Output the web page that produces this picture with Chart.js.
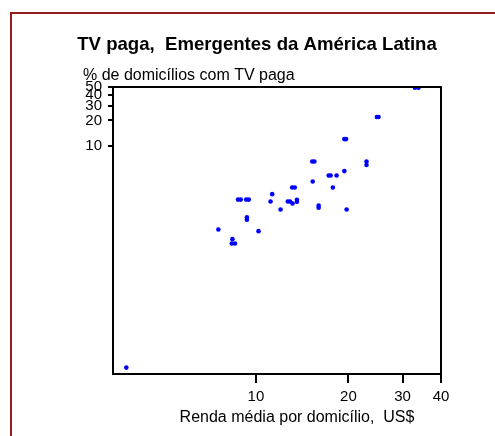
<!DOCTYPE html>
<html>
<head>
<meta charset="utf-8">
<script src="https://cdn.jsdelivr.net/npm/chart.js@4/dist/chart.umd.min.js"></script>
<style>
  html, body { margin: 0; padding: 0; background: #fff; overflow: hidden; }
  #wrap { position: relative; width: 495px; height: 436px; }
  #frame { position: absolute; left: 10px; top: 12px; width: 600px; height: 600px;
           border: 2px solid #951c1c; box-sizing: border-box; }
  canvas { position: absolute; left: 0; top: 0; }
</style>
</head>
<body>
<div id="wrap">
  <div id="frame"></div>
  <canvas id="c" width="495" height="436"></canvas>
</div>
<script>
// Average household income (US$) and share of households with pay TV (%)
const incomeUSD = [
  32.9, 33.8, 24.75, 25.05, 19.4, 19.65, 15.25, 15.5, 22.9, 22.9,
  19.4, 17.25, 17.5, 18.3, 15.3, 13.12, 13.38, 17.8, 11.3, 8.75,
  8.93, 9.3, 9.48, 11.16, 12.7, 12.92, 13.16, 13.6, 13.6, 12.03,
  16.0, 16.0, 19.73, 9.35, 9.35, 7.55, 10.2, 8.39, 8.35, 8.55,
  3.79
];
const payTVShare = [
  49.0, 49.0, 22.0, 22.0, 12.0, 12.0, 6.5, 6.5, 6.5, 5.9,
  5.0, 4.43, 4.43, 4.43, 3.76, 3.19, 3.19, 3.19, 2.66, 2.29,
  2.29, 2.29, 2.29, 2.17, 2.17, 2.17, 2.06, 2.28, 2.16, 1.745,
  1.95, 1.83, 1.745, 1.41, 1.32, 1.01, 0.965, 0.775, 0.687, 0.687,
  0.023
];
const xTickValues = [10, 20, 30, 40];
const yTickValues = [10, 20, 30, 40, 50];

const chartTitle = 'TV paga,  Emergentes da América Latina';
const yTitle = '% de domicílios com TV paga';
const xTitle = 'Renda média por domicílio,  US$';

const FONT = '"Liberation Sans", Arial, sans-serif';

const points = incomeUSD.map((x, i) => ({ x: x, y: payTVShare[i] }));

// Box around the plotting area plus the titles, placed in canvas pixels
const decor = {
  id: 'decor',
  afterDraw(chart) {
    const { ctx, chartArea: a } = chart;
    ctx.save();
    ctx.strokeStyle = '#000';
    ctx.lineWidth = 2;
    ctx.beginPath();
    ctx.moveTo(a.left, a.top);
    ctx.lineTo(a.right, a.top);
    ctx.lineTo(a.right, a.bottom);
    ctx.stroke();

    ctx.fillStyle = '#000';
    ctx.textBaseline = 'alphabetic';
    ctx.font = 'bold 18.6px ' + FONT;
    ctx.textAlign = 'center';
    ctx.fillText(chartTitle, 257, 50);

    ctx.font = '16px ' + FONT;
    ctx.textAlign = 'left';
    ctx.fillText(yTitle, 83, 80);

    ctx.textAlign = 'center';
    ctx.fillText(xTitle, 297, 422);
    ctx.restore();
  }
};

new Chart(document.getElementById('c'), {
  type: 'scatter',
  data: {
    datasets: [{
      data: points,
      backgroundColor: '#0000ff',
      borderWidth: 0,
      pointRadius: 2.3,
      pointHoverRadius: 2.3
    }]
  },
  options: {
    responsive: false,
    animation: false,
    events: [],
    layout: { padding: { top: 87, right: 54, bottom: 0, left: 0 } },
    plugins: { legend: { display: false }, tooltip: { enabled: false }, title: { display: false } },
    scales: {
      x: {
        type: 'logarithmic',
        min: 3.43,
        max: 40,
        afterBuildTicks: s => { s.ticks = xTickValues.map(v => ({ value: v })); },
        afterFit: s => { s.height = 62; },
        ticks: {
          autoSkip: false, maxRotation: 0, color: '#000', padding: 5,
          font: { family: FONT, size: 15 },
          callback: v => String(v)
        },
        grid: { drawOnChartArea: false, drawTicks: true, tickLength: 9, color: '#000', lineWidth: 2 },
        border: { display: true, color: '#000', width: 2 }
      },
      y: {
        type: 'logarithmic',
        min: 0.0193,
        max: 50,
        afterBuildTicks: s => { s.ticks = yTickValues.map(v => ({ value: v })); },
        afterFit: s => { s.width = 113; },
        ticks: {
          autoSkip: false, color: '#000', padding: 6,
          font: { family: FONT, size: 15 },
          callback: v => String(v)
        },
        grid: { drawOnChartArea: false, drawTicks: true, tickLength: 5, color: '#000', lineWidth: 2 },
        border: { display: true, color: '#000', width: 2 }
      }
    }
  },
  plugins: [decor]
});
</script>
</body>
</html>
